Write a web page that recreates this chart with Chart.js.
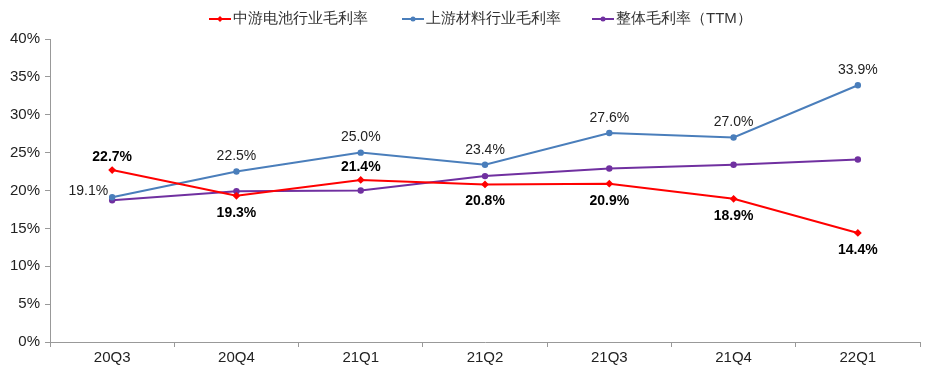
<!DOCTYPE html>
<html>
<head>
<meta charset="utf-8">
<script src="https://cdn.jsdelivr.net/npm/chart.js@4"></script>
<style>
  html, body { margin:0; padding:0; background:#fff; }
  #wrap { width:926px; height:369px; position:relative; }
  #legend { position:absolute; top:9px; left:0; width:926px; height:20px;
            font-family:'Liberation Sans', Arial, sans-serif; font-size:15px; color:#333; }
  #legend .item { position:absolute; top:0; display:flex; align-items:center; white-space:nowrap; }
  #legend canvas { margin-right:2px; }
</style>
</head>
<body>
<div id="wrap"><div id="legend"></div><canvas id="chart"></canvas></div>
<script>
// 毛利率对比
const categories = ['20Q3','20Q4','21Q1','21Q2','21Q3','21Q4','22Q1'];
const batteryMargin  = [22.7, 19.3, 21.4, 20.8, 20.9, 18.9, 14.4];
const materialMargin = [19.1, 22.5, 25.0, 23.4, 27.6, 27.0, 33.9];
const totalTTM       = [18.7, 19.9, 20.0, 21.9, 22.9, 23.4, 24.1];
const yTicks = [0, 5, 10, 15, 20, 25, 30, 35, 40];

const RED = '#ff0000', BLUE = '#4a7ebb', PURPLE = '#7030a0';
const FONT = "'Liberation Sans', Arial, sans-serif";

// legend icon: short line with a small marker
function legendIcon(color, diamond){
  const c = document.createElement('canvas');
  c.width = 22; c.height = 10;
  const g = c.getContext('2d');
  g.strokeStyle = color; g.lineWidth = 2;
  g.beginPath(); g.moveTo(0,5); g.lineTo(22,5); g.stroke();
  g.fillStyle = color;
  g.beginPath();
  if(diamond){ g.moveTo(11,2); g.lineTo(14,5); g.lineTo(11,8); g.lineTo(8,5); g.closePath(); }
  else g.arc(11,5,2.5,0,Math.PI*2);
  g.fill();
  return c;
}

// label positions: 'above' / 'below' / 'left'
const redPos  = ['above','below','above','below','below','below','below'];
const bluePos = ['left','above','above','above','above','above','above'];

const labelPlugin = {
  id:'labels',
  afterDatasetsDraw(chart){
    const ctx = chart.ctx;
    const draw = (di, pos, bold) => {
      const meta = chart.getDatasetMeta(di);
      const vals = chart.data.datasets[di].data;
      meta.data.forEach((pt, i) => {
        const txt = vals[i].toFixed(1) + '%';
        ctx.save();
        ctx.font = (bold ? 'bold ' : '') + '14px ' + FONT;
        ctx.fillStyle = bold ? '#000' : '#222';
        ctx.textBaseline = 'middle';
        let x = pt.x, y = pt.y;
        if(pos[i] === 'left'){ ctx.textAlign = 'right'; x -= 4; y -= 6; }
        else { ctx.textAlign = 'center'; y += pos[i] === 'above' ? (bold ? -13 : -15) : 17; }
        ctx.fillText(txt, x, y);
        ctx.restore();
      });
    };
    draw(1, bluePos, false);
    draw(0, redPos, true);
  }
};

const datasets = [
  { label:'中游电池行业毛利率', data: batteryMargin, borderColor: RED, backgroundColor: RED,
    borderWidth: 2, pointStyle:'rectRot', pointRadius: 2.5, tension: 0, diamond: true, legendX: 209 },
  { label:'上游材料行业毛利率', data: materialMargin, borderColor: BLUE, backgroundColor: BLUE,
    borderWidth: 2, pointStyle:'circle', pointRadius: 2.2, tension: 0, legendX: 402 },
  { label:'整体毛利率（TTM）', data: totalTTM, borderColor: PURPLE, backgroundColor: PURPLE,
    borderWidth: 2, pointStyle:'circle', pointRadius: 2.2, tension: 0, legendX: 592 }
];

// html legend
const legendEl = document.getElementById('legend');
datasets.forEach(ds => {
  const item = document.createElement('div');
  item.className = 'item';
  item.style.left = ds.legendX + 'px';
  item.appendChild(legendIcon(ds.borderColor, ds.diamond));
  const sp = document.createElement('span');
  sp.textContent = ds.label;
  item.appendChild(sp);
  legendEl.appendChild(item);
});

new Chart(document.getElementById('chart'), {
  type:'line',
  data:{ labels: categories, datasets },
  options:{
    responsive:true,
    maintainAspectRatio:false,
    animation:false,
    layout:{ padding:{ left:5, right:5, top:39, bottom:0 } },
    plugins:{
      legend:{ display:false },
      tooltip:{ enabled:false }
    },
    scales:{
      x:{
        offset:true,
        grid:{ display:true, offset:true, drawOnChartArea:false, tickLength:5, color:'#999' },
        border:{ color:'#999', width:1 },
        ticks:{ color:'#222', font:{ family: FONT, size:15 }, padding:2 }
      },
      y:{
        min:0, max:40,
        afterBuildTicks(scale){ scale.ticks = yTicks.map(v => ({ value:v })); },
        grid:{ display:true, drawOnChartArea:false, tickLength:5, color:'#999' },
        border:{ color:'#999', width:1 },
        ticks:{ color:'#222', font:{ family: FONT, size:15 }, padding:5, callback: v => v + '%' }
      }
    }
  }
  ,plugins:[labelPlugin]
});
</script>
</body>
</html>
